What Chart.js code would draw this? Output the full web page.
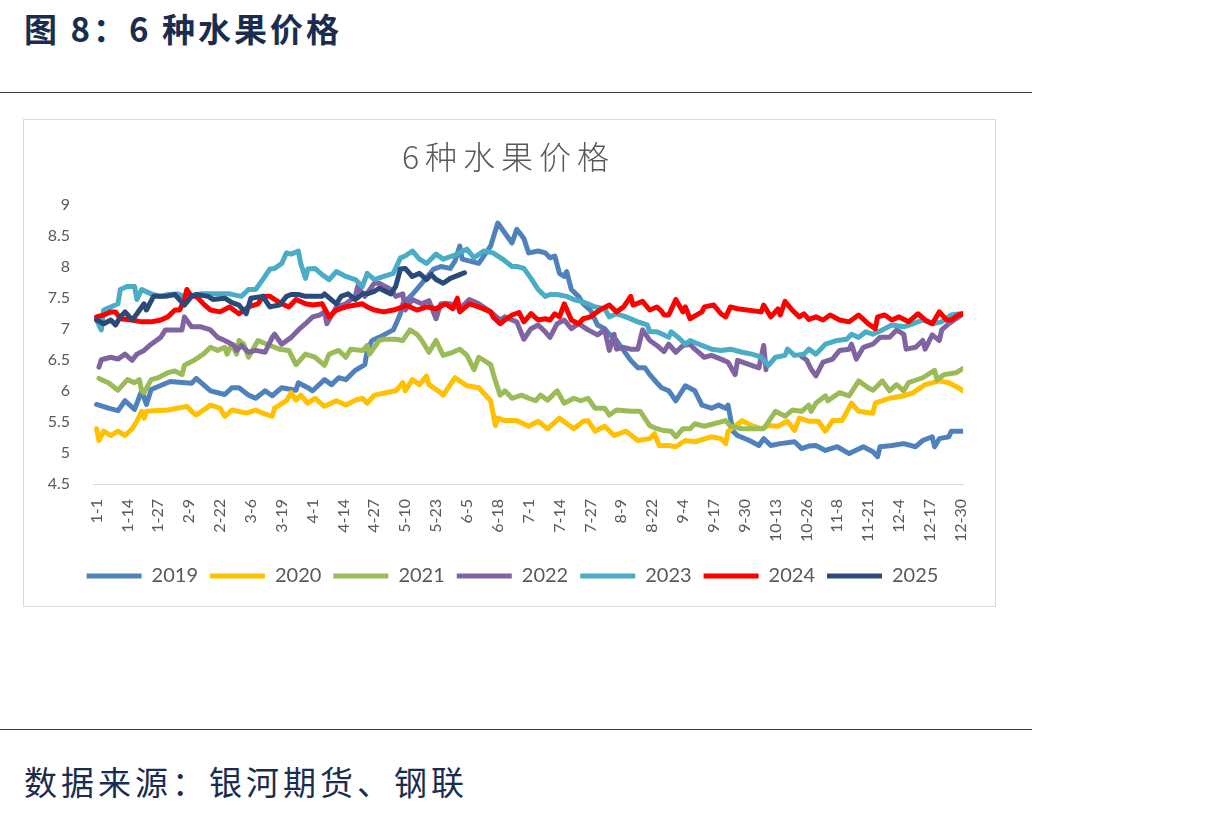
<!DOCTYPE html>
<html>
<head>
<meta charset="utf-8">
<script src="https://cdn.jsdelivr.net/npm/chart.js@4.4.1/dist/chart.umd.min.js"></script>
<style>
  body { margin: 0; background: #fff; width: 1231px; height: 813px; position: relative; overflow: hidden; font-family: "Noto Sans CJK SC", sans-serif; }
  .hd { position: absolute; left: 24px; top: 12px; font-size: 33px; line-height: 1; font-weight: 700; color: #1b2d4f; letter-spacing: 3px; white-space: nowrap; }
  .rule { position: absolute; left: 0; width: 1032px; height: 1px; background: #3c3c3c; }
  .box { position: absolute; left: 23px; top: 119px; width: 973px; height: 488px; border: 1px solid #d9d9d9; box-sizing: border-box; }
  .ft { position: absolute; left: 24px; top: 765px; font-size: 33px; line-height: 1; color: #1b2d4f; letter-spacing: 4px; white-space: nowrap; }
</style>
</head>
<body>
<div class="hd">图 8：6 种水果价格</div>
<div class="rule" style="top:92px"></div>
<div class="box"><canvas id="fruit"></canvas></div>
<div class="rule" style="top:729px"></div>
<div class="ft">数据来源：银河期货、钢联</div>
<script>
// x axis: day of year (0 = 1-1), a label every 13 days
const tickLabels = ['1-1','1-14','1-27','2-9','2-22','3-6','3-19','4-1','4-14','4-27','5-10','5-23','6-5','6-18',
  '7-1','7-14','7-27','8-9','8-22','9-4','9-17','9-30','10-13','10-26','11-8','11-21','12-4','12-17','12-30'];
const tickStep = 13;

const years = ['2019','2020','2021','2022','2023','2024','2025'];
const colors = ['#4f81bd','#ffc000','#9bbb59','#8064a2','#4bacc6','#ff0000','#2a4a7a'];

// [day, price]
const s2019 = [[0,5.78],[5,5.72],[9,5.68],[12,5.84],[16,5.70],[19,6.0],[21,5.78],[23,6.02],[31,6.15],[40,6.12],[42,6.2],[48,6.0],
  [54,5.94],[57,6.05],[60,6.05],[64,5.93],[67,5.88],[71,6.0],[74,5.92],[78,6.05],[84,6.01],[85,6.13],[89,6.05],[91,6.0],[96,6.18],
  [99,6.10],[102,6.21],[105,6.18],[109,6.33],[113,6.42],[114,6.65],[116,6.81],[119,6.86],[125,6.98],[128,7.24],[129,7.4],[133,7.55],
  [137,7.73],[142,7.96],[145,8.0],[149,7.97],[151,8.09],[153,8.33],[154,8.12],[161,8.05],[166,8.33],[169,8.7],[172,8.54],[175,8.38],
  [177,8.6],[180,8.45],[182,8.22],[186,8.25],[189,8.22],[191,8.14],[193,8.17],[195,7.89],[197,7.84],[198,7.92],[200,7.63],[203,7.52],
  [205,7.40],[208,7.30],[211,7.06],[214,7.0],[216,6.91],[219,6.81],[222,6.65],[225,6.49],[228,6.37],[231,6.37],[233,6.26],[236,6.13],
  [238,6.05],[241,6.0],[244,5.84],[248,6.08],[252,6.0],[255,5.77],[259,5.72],[262,5.77],[265,5.72],[266,5.77],[268,5.35],[270,5.28],
  [275,5.2],[279,5.12],[281,5.23],[284,5.12],[288,5.15],[294,5.18],[297,5.07],[300,5.11],[303,5.12],[307,5.04],[312,5.10],[317,4.99],
  [323,5.10],[327,5.02],[329,4.94],[330,5.10],[335,5.12],[340,5.15],[345,5.10],[348,5.2],[352,5.26],[353,5.10],[355,5.23],[359,5.26],
  [360,5.35],[365,5.35]];
const s2020 = [[0,5.39],[1,5.2],[3,5.35],[6,5.28],[9,5.35],[12,5.28],[15,5.39],[17,5.51],[19,5.67],[20,5.56],[21,5.67],[30,5.69],
  [38,5.75],[40,5.67],[42,5.61],[48,5.77],[52,5.72],[54,5.59],[57,5.69],[63,5.64],[67,5.69],[70,5.64],[74,5.59],[75,5.72],[80,5.84],
  [82,5.97],[84,5.85],[86,5.93],[89,5.80],[92,5.88],[96,5.75],[101,5.84],[105,5.77],[109,5.85],[112,5.88],[114,5.80],[117,5.93],
  [126,6.0],[129,6.13],[130,6.0],[133,6.18],[136,6.10],[139,6.24],[140,6.10],[145,5.97],[146,5.93],[151,6.21],[156,6.08],[161,6.05],
  [166,5.84],[168,5.44],[169,5.56],[172,5.52],[177,5.52],[182,5.43],[186,5.51],[190,5.39],[195,5.56],[201,5.39],[205,5.51],[207,5.52],
  [210,5.35],[214,5.43],[218,5.28],[223,5.35],[228,5.2],[233,5.23],[235,5.31],[237,5.12],[241,5.12],[244,5.10],[248,5.2],[252,5.18],
  [259,5.26],[263,5.23],[265,5.15],[266,5.35],[272,5.52],[276,5.44],[280,5.39],[283,5.44],[287,5.43],[291,5.51],[294,5.36],[296,5.56],
  [300,5.51],[304,5.51],[307,5.35],[310,5.52],[314,5.52],[318,5.80],[321,5.67],[327,5.64],[328,5.80],[334,5.88],[340,5.92],[344,5.97],
  [349,6.10],[355,6.16],[359,6.13],[363,6.05],[365,6.0]];
const s2021 = [[1,6.2],[2,6.18],[5,6.13],[9,6.01],[13,6.18],[16,6.13],[18,6.18],[19,6.0],[20,5.97],[23,6.18],[26,6.21],[30,6.29],
  [33,6.32],[36,6.26],[37,6.41],[41,6.49],[45,6.59],[48,6.70],[51,6.65],[54,6.70],[55,6.59],[57,6.75],[59,6.59],[60,6.81],[62,6.75],
  [64,6.54],[68,6.81],[73,6.73],[77,6.67],[81,6.65],[84,6.42],[88,6.59],[92,6.54],[96,6.41],[98,6.59],[102,6.65],[105,6.54],[107,6.67],
  [112,6.65],[114,6.73],[115,6.59],[119,6.81],[121,6.83],[126,6.83],[129,6.81],[132,6.98],[135,6.91],[137,6.81],[140,6.62],[143,6.81],
  [146,6.57],[150,6.62],[153,6.67],[156,6.57],[159,6.34],[161,6.54],[166,6.42],[168,6.16],[170,5.93],[172,6.0],[175,5.88],[179,5.93],
  [182,5.88],[185,5.84],[187,5.93],[190,5.85],[194,6.0],[197,5.80],[201,5.88],[204,5.84],[207,5.88],[210,5.72],[214,5.72],[216,5.61],
  [219,5.69],[225,5.67],[229,5.67],[233,5.44],[236,5.39],[239,5.36],[242,5.35],[244,5.26],[247,5.39],[250,5.39],[252,5.47],[256,5.43],
  [260,5.47],[265,5.52],[267,5.43],[272,5.39],[277,5.39],[281,5.39],[286,5.67],[290,5.59],[293,5.69],[297,5.67],[300,5.77],[301,5.67],
  [303,5.80],[307,5.92],[308,5.84],[313,5.97],[317,5.92],[321,6.16],[325,6.05],[327,6.01],[331,6.16],[334,6.0],[337,6.10],[340,6.0],
  [342,6.13],[348,6.21],[353,6.33],[354,6.18],[357,6.26],[362,6.29],[365,6.36]];
const s2022 = [[1,6.38],[2,6.5],[6,6.54],[9,6.51],[12,6.59],[15,6.49],[17,6.59],[20,6.65],[23,6.75],[27,6.86],[29,6.98],[36,6.98],
  [37,7.19],[40,7.03],[44,7.03],[48,6.98],[51,6.86],[54,6.81],[58,6.73],[59,6.65],[61,6.73],[64,6.62],[67,6.65],[71,6.62],[74,6.86],
  [75,6.91],[78,6.75],[82,6.86],[85,6.98],[88,7.08],[91,7.19],[94,7.22],[96,7.27],[97,7.08],[101,7.35],[105,7.40],[109,7.52],[110,7.68],
  [113,7.52],[117,7.73],[119,7.73],[124,7.63],[126,7.52],[129,7.56],[130,7.30],[133,7.47],[137,7.40],[140,7.45],[143,7.16],[145,7.40],
  [149,7.40],[153,7.32],[157,7.47],[161,7.40],[166,7.27],[170,7.14],[172,7.19],[175,7.14],[177,7.11],[180,6.83],[183,7.0],[186,7.06],
  [189,6.95],[191,6.86],[194,7.08],[197,7.14],[200,7.0],[203,7.08],[207,6.98],[211,6.90],[214,6.98],[216,6.65],[218,6.91],[219,6.67],
  [222,6.70],[225,6.67],[228,6.67],[230,6.98],[233,6.81],[236,6.73],[239,6.63],[241,6.75],[244,6.62],[247,6.73],[250,6.75],[252,6.67],
  [256,6.54],[259,6.57],[263,6.51],[266,6.46],[269,6.26],[270,6.49],[275,6.42],[279,6.37],[281,6.73],[282,6.34],[288,null],[297,6.55],
  [299,6.5],[301,6.35],[303,6.24],[306,6.46],[310,6.51],[313,6.65],[317,6.67],[318,6.75],[320,6.51],[323,6.70],[327,6.75],[330,6.86],
  [334,6.86],[337,6.98],[340,6.91],[341,6.67],[345,6.70],[348,6.81],[349,6.67],[352,6.90],[355,6.81],[356,6.98],[359,7.08],[362,7.16],
  [365,7.24]];
const s2023 = [[0,7.14],[2,6.98],[3,7.30],[6,7.35],[9,7.40],[10,7.63],[13,7.68],[16,7.68],[17,7.47],[19,7.63],[23,7.56],[27,7.52],
  [30,7.55],[34,7.56],[37,7.52],[44,7.56],[51,7.56],[56,7.56],[61,7.52],[64,7.63],[67,7.63],[70,7.79],[73,7.96],[75,7.97],[78,8.05],
  [80,8.22],[82,8.2],[85,8.25],[86,8.05],[88,7.81],[89,7.96],[92,7.97],[95,7.87],[98,7.79],[101,7.92],[105,7.84],[109,7.79],[112,7.68],
  [114,7.89],[117,7.79],[121,7.84],[125,7.89],[128,8.14],[130,8.17],[133,8.25],[136,8.12],[139,8.05],[143,8.2],[146,8.12],[150,8.17],
  [156,8.28],[159,8.14],[163,8.25],[167,8.22],[171,8.12],[175,8.0],[177,8.0],[180,7.97],[183,7.81],[186,7.63],[189,7.52],[191,7.55],
  [194,7.55],[198,7.52],[201,7.47],[204,7.44],[207,7.40],[210,7.35],[214,7.32],[216,7.19],[219,7.24],[223,7.19],[228,7.11],[232,7.06],
  [233,6.95],[236,6.95],[239,6.90],[241,6.86],[242,6.95],[245,6.86],[248,6.75],[250,6.81],[255,6.73],[259,6.67],[263,6.65],[267,6.67],
  [272,6.62],[276,6.59],[280,6.54],[283,6.41],[286,6.54],[290,6.57],[291,6.67],[294,6.57],[298,6.59],[300,6.67],[303,6.59],[307,6.75],
  [312,6.81],[316,6.83],[318,6.91],[321,6.86],[324,6.95],[327,6.91],[331,6.98],[335,7.06],[340,7.03],[344,7.08],[348,7.14],[352,7.08],
  [356,7.11],[360,7.22],[364,7.24]];
const s2024 = [[0,7.19],[3,7.22],[6,7.27],[8,7.27],[10,7.16],[15,7.14],[19,7.11],[23,7.11],[27,7.14],[30,7.19],[33,7.30],[35,7.30],
  [37,7.47],[38,7.63],[40,7.52],[42,7.52],[45,7.40],[48,7.30],[52,7.27],[56,7.35],[60,7.24],[64,7.35],[68,7.40],[70,7.52],[73,7.52],
  [75,7.47],[78,7.40],[81,7.35],[84,7.47],[88,7.40],[91,7.38],[95,7.40],[98,7.19],[101,7.30],[105,7.35],[109,7.38],[112,7.40],[114,7.35],
  [117,7.30],[121,7.27],[125,7.30],[129,7.35],[130,7.38],[135,7.30],[139,7.35],[143,7.32],[147,7.40],[150,7.32],[152,7.49],[153,7.27],
  [157,7.40],[161,7.35],[166,7.27],[167,7.19],[170,7.08],[172,7.14],[175,7.22],[178,7.26],[180,7.11],[183,7.24],[186,7.14],[189,7.16],
  [191,7.14],[193,7.24],[195,7.19],[197,7.40],[200,7.14],[203,7.08],[205,7.16],[208,7.19],[212,7.30],[216,7.38],[219,7.27],[222,7.35],
  [225,7.52],[226,7.38],[230,7.44],[233,7.30],[236,7.35],[238,7.28],[239,7.22],[241,7.22],[244,7.47],[247,7.27],[248,7.35],[250,7.16],
  [255,7.27],[256,7.35],[260,7.38],[263,7.24],[265,7.19],[267,7.35],[270,7.32],[280,7.27],[281,7.38],[284,7.19],[287,7.32],[288,7.22],
  [290,7.44],[293,7.30],[296,7.19],[298,7.24],[300,7.15],[303,7.19],[306,7.14],[309,7.22],[313,7.14],[317,7.11],[321,7.22],[325,7.08],
  [328,7.0],[329,7.19],[332,7.22],[335,7.14],[338,7.19],[342,7.11],[346,7.24],[349,7.14],[352,7.08],[355,7.27],[358,7.14],[360,7.14],
  [363,7.22],[365,7.24]];
const s2025 = [[0,7.14],[3,7.08],[6,7.14],[8,7.06],[10,7.19],[12,7.27],[15,7.14],[17,7.24],[20,7.40],[21,7.30],[24,7.52],[29,7.52],
  [33,7.55],[37,7.38],[40,7.52],[42,7.55],[47,7.52],[49,7.47],[54,7.49],[57,7.42],[60,7.38],[63,7.24],[65,7.49],[70,7.52],[73,7.35],
  [77,7.38],[80,7.52],[82,7.55],[85,7.55],[88,7.52],[91,7.52],[95,7.52],[96,7.56],[101,7.40],[103,7.52],[106,7.56],[109,7.47],[112,7.56],
  [114,7.56],[117,7.60],[119,7.65],[124,7.56],[126,7.68],[128,7.96],[130,7.97],[133,7.84],[136,7.89],[139,7.79],[141,7.87],[143,7.79],
  [146,7.73],[149,7.81],[153,7.87],[155,7.9]];

const series = [s2019, s2020, s2021, s2022, s2023, s2024, s2025];

const datasets = years.map((yr, i) => ({
  label: yr,
  data: series[i].map(p => ({ x: p[0], y: p[1] })),
  borderColor: colors[i],
  backgroundColor: colors[i],
  borderWidth: 5,
  borderJoinStyle: 'round',
  borderCapStyle: 'round',
  pointRadius: 0,
  tension: 0,
  spanGaps: false,
  order: years.length - 1 - i   // later years drawn on top, like excel
}));

const axisFont = { family: 'Lato, "Noto Sans", sans-serif', size: 16 };

// title and legend are centred on the whole frame in excel, chart.js centres them
// left of the right padding, so nudge them over (title also gets letter spacing)
const boxNudge = {
  id: 'boxNudge',
  beforeDraw(chart) {
    const wrap = (box, dx, spacing) => {
      if (!box || box._nudged) return;
      const orig = box.draw;
      box.draw = function () {
        this.ctx.save();
        this.ctx.translate(dx, 0);
        if (spacing) this.ctx.letterSpacing = spacing;
        orig.apply(this, arguments);
        this.ctx.restore();
      };
      box._nudged = true;
    };
    wrap(chart.titleBlock, 13, '6px');
    wrap(chart.legend, 17, null);
  }
};

new Chart(document.getElementById('fruit'), {
  type: 'line',
  data: { datasets },
  plugins: [boxNudge],
  options: {
    responsive: true,
    maintainAspectRatio: false,
    animation: false,
    devicePixelRatio: 1,
    events: [],
    layout: { padding: { left: 0, right: 28, top: 0, bottom: 10 } },
    scales: {
      x: {
        type: 'linear',
        min: -1.5,
        max: 365,
        grid: { display: false, drawTicks: false },
        border: { display: true, color: '#d9d9d9', width: 1 },
        afterBuildTicks: (s) => { s.ticks = tickLabels.map((_, i) => ({ value: i * tickStep })); },
        afterFit: (s) => { s.height = 70; },
        ticks: {
          autoSkip: false, maxRotation: 90, minRotation: 90, padding: 15,
          color: '#595959', font: axisFont,
          callback: (v, i) => tickLabels[i]
        }
      },
      y: {
        min: 4.5,
        max: 9,
        grid: { display: false, drawTicks: false },
        border: { display: false },
        afterFit: (s) => { s.width = 69; },
        ticks: { stepSize: 0.5, padding: 23, color: '#595959', font: axisFont, callback: (v) => String(v) }
      }
    },
    plugins: {
      title: {
        display: true,
        text: '6种水果价格',
        color: '#595959',
        font: { family: '"Noto Sans CJK SC", sans-serif', size: 32, weight: 300 },
        padding: { top: 18, bottom: 28 }
      },
      legend: {
        position: 'bottom',
        labels: {
          usePointStyle: true,
          pointStyle: 'line',
          pointStyleWidth: 55,
          padding: 12,
          color: '#595959',
          font: { family: 'Lato, "Noto Sans", sans-serif', size: 20 },
          sort: (a, b) => a.datasetIndex - b.datasetIndex
        }
      },
      tooltip: { enabled: false }
    }
  }
});
</script>
</body>
</html>
